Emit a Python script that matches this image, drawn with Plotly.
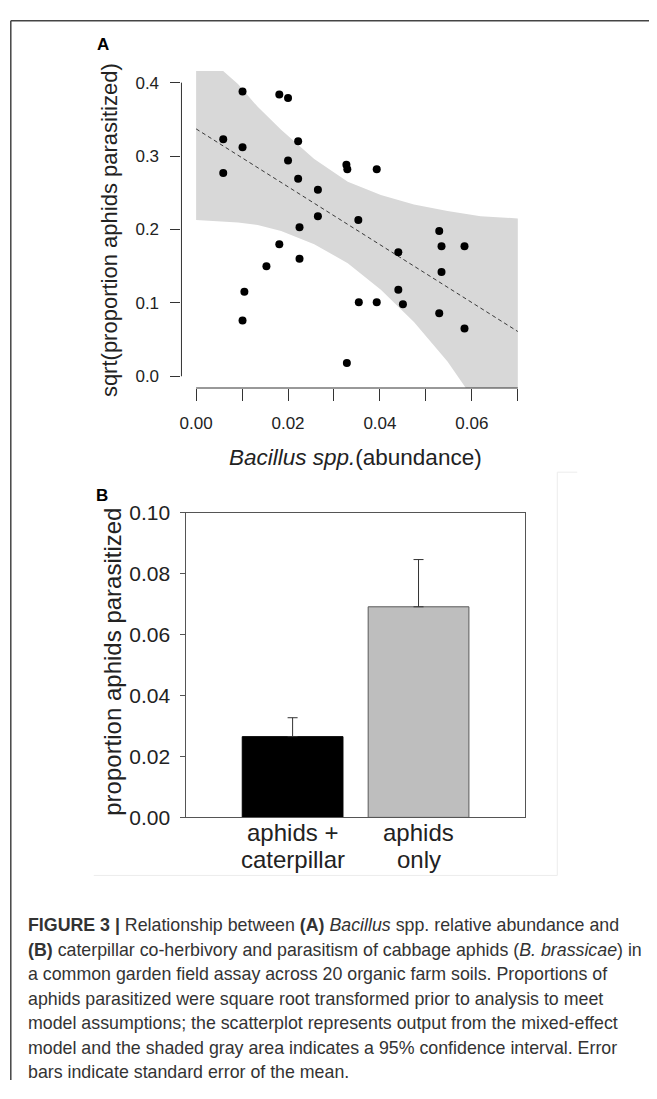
import plotly.graph_objects as go

# ---------------- data: panel A ----------------
abundance = [0.0101, 0.0181, 0.0200, 0.0059, 0.0101, 0.0222, 0.0059, 0.0200, 0.0222,
             0.0265, 0.0327, 0.0329, 0.0393, 0.0265, 0.0353, 0.0225, 0.0181, 0.0153,
             0.0225, 0.0105, 0.0101, 0.0354, 0.0393, 0.0328, 0.0440, 0.0440, 0.0450,
             0.0529, 0.0534, 0.0534, 0.0529, 0.0584, 0.0584]
sqrt_parasitized = [0.388, 0.384, 0.379, 0.323, 0.312, 0.320, 0.277, 0.294, 0.269,
                    0.254, 0.288, 0.282, 0.282, 0.218, 0.213, 0.203, 0.180, 0.150,
                    0.160, 0.115, 0.076, 0.101, 0.101, 0.018, 0.169, 0.118, 0.098,
                    0.198, 0.177, 0.142, 0.086, 0.177, 0.065]
fit_x = [0.0, 0.07]
fit_y = [0.337, 0.061]
band_x = [0.0, 0.0055, 0.0091, 0.0134, 0.0185, 0.0257, 0.0330, 0.0402, 0.0474, 0.0547, 0.0619, 0.0700]
band_upper = [0.440, 0.418, 0.398, 0.367, 0.336, 0.296, 0.265, 0.247, 0.234, 0.225, 0.218, 0.215]
band_lower = [0.213, 0.211, 0.2095, 0.206, 0.198, 0.180, 0.154, 0.118, 0.074, 0.020, -0.045, -0.110]
a_xticks = [0.00, 0.01, 0.02, 0.03, 0.04, 0.05, 0.06, 0.07]
a_xticktext = ["0.00", "", "0.02", "", "0.04", "", "0.06", ""]
a_yticks = [0.0, 0.1, 0.2, 0.3, 0.4]
a_yticktext = ["0.0", "0.1", "0.2", "0.3", "0.4"]

# ---------------- data: panel B ----------------
treatments = ["aphids + caterpillar", "aphids only"]
treatment_label_lines = [["aphids +", "caterpillar"], ["aphids", "only"]]
prop_parasitized = [0.0265, 0.0691]
prop_se = [0.0062, 0.0155]
b_yticks = [0.00, 0.02, 0.04, 0.06, 0.08, 0.10]
b_yticktext = ["0.00", "0.02", "0.04", "0.06", "0.08", "0.10"]

caption_lines = [
    "<b>FIGURE 3 |</b> Relationship between <b>(A)</b> <i>Bacillus</i> spp. relative abundance and",
    "<b>(B)</b> caterpillar co-herbivory and parasitism of cabbage aphids (<i>B. brassicae</i>) in",
    "a common garden field assay across 20 organic farm soils. Proportions of",
    "aphids parasitized were square root transformed prior to analysis to meet",
    "model assumptions; the scatterplot represents output from the mixed-effect",
    "model and the shaded gray area indicates a 95% confidence interval. Error",
    "bars indicate standard error of the mean.",
]

# the page has an 8px body margin: the figure covers window pixels 8..649 x 8..1091
OX, OY = 8, 8
W, H = 641, 1083
def px(x):
    return (x - OX) / W
def py(y):
    return 1 - (y - OY) / H

FONT = "Liberation Sans, Arial, sans-serif"
fig = go.Figure()

# confidence band
fig.add_trace(go.Scatter(
    x=band_x + band_x[::-1], y=band_upper + band_lower[::-1],
    fill="toself", fillcolor="#d8d8d8", line=dict(width=0), mode="lines",
    hoverinfo="skip", showlegend=False, xaxis="x", yaxis="y"))
# fitted line
fig.add_trace(go.Scatter(
    x=fit_x, y=fit_y, mode="lines", line=dict(color="#3a3a3a", width=1, dash="4px,3px"),
    showlegend=False, xaxis="x", yaxis="y"))
# points
fig.add_trace(go.Scatter(
    x=abundance, y=sqrt_parasitized, mode="markers",
    marker=dict(color="black", size=8, line=dict(width=0)),
    showlegend=False, xaxis="x", yaxis="y"))

# bars
fig.add_trace(go.Bar(
    x=treatments, y=prop_parasitized, width=0.8,
    marker=dict(color=["black", "#bebebe"], line=dict(color=["black", "#5a5a5a"], width=1)),
    error_y=dict(type="data", array=prop_se, arrayminus=[0, 0], symmetric=False,
                 color="#333333", thickness=1, width=5),
    showlegend=False, xaxis="x2", yaxis="y2"))

a_left, a_right, a_top, a_bottom = 180, 530.3, 60, 384
b_left, b_right, b_top, b_bottom = 185, 524.3, 511.3, 822.7

fig.update_layout(
    width=W, height=H, margin=dict(l=0, r=0, t=0, b=0),
    paper_bgcolor="white", plot_bgcolor="white",
    font=dict(family=FONT, color="#222222"),
    xaxis=dict(domain=[px(a_left), px(a_right)], range=[-0.00319, 0.0728],
               tickvals=a_xticks, ticktext=a_xticktext, ticks="outside", ticklen=12,
               tickcolor="#333333", tickwidth=1, showline=False, showgrid=False,
               zeroline=False, tickfont=dict(size=17, color="#222222"),
               ticklabelstandoff=8, anchor="y", fixedrange=True),
    yaxis=dict(domain=[py(a_bottom), py(a_top)], range=[-0.016, 0.416],
               tickvals=a_yticks, ticktext=a_yticktext, ticks="outside", ticklen=10,
               tickcolor="#333333", tickwidth=1, showline=False, showgrid=False,
               zeroline=False, tickfont=dict(size=17, color="#222222"),
               ticklabelstandoff=8, anchor="x", fixedrange=True),
    xaxis2=dict(domain=[px(b_left), px(b_right)], range=[-0.843, 1.843],
                type="category", showline=True, mirror=True, linecolor="#555555",
                linewidth=1, ticks="", showgrid=False, zeroline=False,
                showticklabels=False, anchor="y2", fixedrange=True),
    yaxis2=dict(domain=[py(b_bottom), py(b_top)], range=[0, 0.1],
                tickvals=b_yticks, ticktext=b_yticktext, showline=True, mirror=True,
                linecolor="#555555", linewidth=1, ticks="outside", ticklen=5,
                tickcolor="#555555", showgrid=False, zeroline=False,
                tickfont=dict(size=21, color="#222222"), ticklabelstandoff=6,
                anchor="x2", fixedrange=True),
    bargap=0.2,
)

shapes = [
    # panel A axis lines spanning the tick range
    dict(type="line", xref="x domain", x0=0, x1=0, yref="y", y0=a_yticks[0], y1=a_yticks[-1],
         line=dict(color="#333333", width=1)),
    dict(type="line", xref="x", x0=a_xticks[0], x1=a_xticks[-1], yref="y domain", y0=0, y1=0,
         line=dict(color="#333333", width=1)),
    # outer frame
    dict(type="line", xref="paper", yref="paper", x0=px(8.8), x1=px(8.8), y0=py(8.8), y1=0,
         line=dict(color="#444444", width=1.5)),
    dict(type="line", xref="paper", yref="paper", x0=px(8.8), x1=1, y0=py(8.8), y1=py(8.8),
         line=dict(color="#444444", width=1.5)),
    # faint frame of panel B image
    dict(type="line", xref="paper", yref="paper", x0=px(557), x1=px(557), y0=py(470), y1=py(882),
         line=dict(color="#ececec", width=1)),
    dict(type="line", xref="paper", yref="paper", x0=px(92), x1=px(557), y0=py(882), y1=py(882),
         line=dict(color="#ececec", width=1)),
    dict(type="line", xref="paper", yref="paper", x0=px(557), x1=px(577), y0=py(470), y1=py(470),
         line=dict(color="#ececec", width=1)),
]
fig.update_layout(shapes=shapes)

def label(text, x, y, size, angle=0, color="#222222"):
    return dict(text=text, x=px(x), y=py(y), xref="paper", yref="paper",
                xanchor="center", yanchor="middle", showarrow=False, textangle=angle,
                font=dict(size=size, color=color))

ann = [
    label("<b>A</b>", 101, 33, 17, color="black"),
    label("<b>B</b>", 100, 494, 17, color="black"),
    label("sqrt(proportion aphids parasitized)", 108, 223, 22, angle=-90),
    label("<i>Bacillus spp.</i>(abundance)", 355, 455, 22.5),
    label("proportion aphids parasitized", 110, 664, 24, angle=-90),
]
# category labels of panel B, one annotation per text line under each bar
for cat, lines in zip(treatments, treatment_label_lines):
    for j, t in enumerate(lines):
        ann.append(dict(text=t, x=cat, xref="x2", y=py(838 + 28 * j), yref="paper",
                        xanchor="center", yanchor="middle", showarrow=False,
                        font=dict(size=24, color="#222222")))
for i, line in enumerate(caption_lines):
    ann.append(dict(text=line, x=px(24), y=py(933 + 25 * i), xref="paper", yref="paper",
                    xanchor="left", yanchor="middle", showarrow=False, align="left",
                    font=dict(size=17.8, color="#333333", family=FONT)))
fig.update_layout(annotations=ann)

fig.write_html("out.html")
